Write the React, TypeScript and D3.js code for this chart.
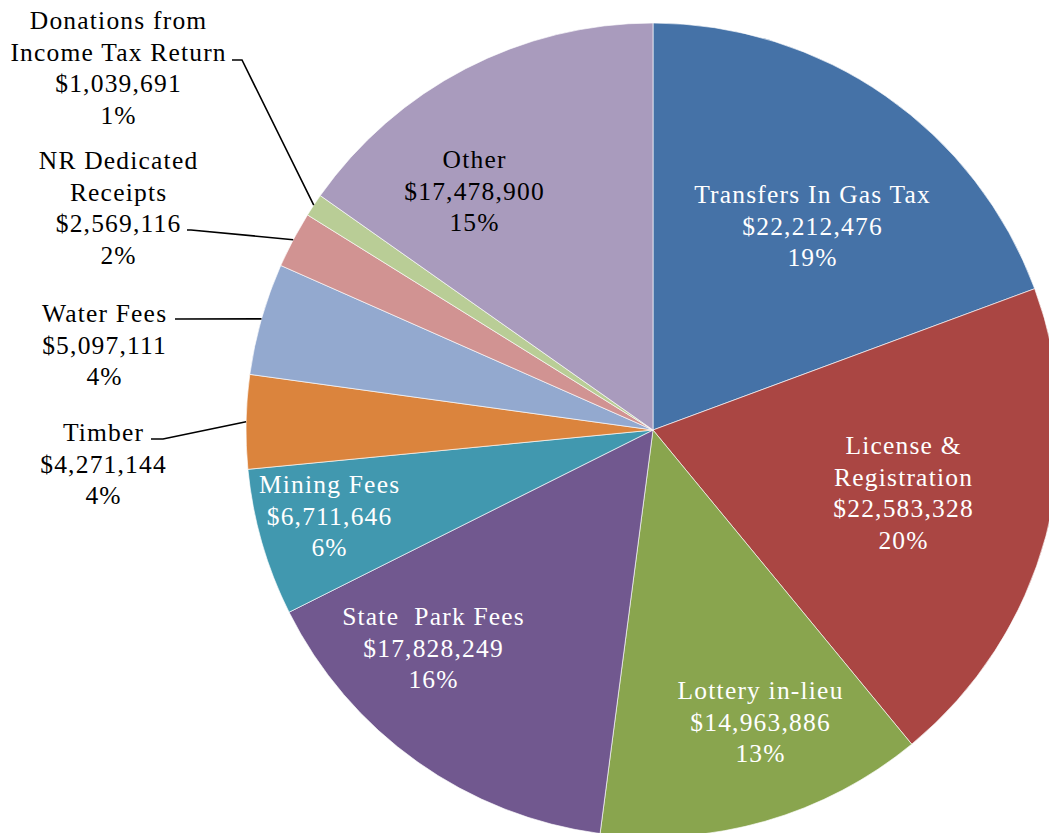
import React from "react";
import * as d3 from "d3";

const categories = [
  "Transfers In Gas Tax",
  "License & Registration",
  "Lottery in-lieu",
  "State Park Fees",
  "Mining Fees",
  "Timber",
  "Water Fees",
  "NR Dedicated Receipts",
  "Donations from Income Tax Return",
  "Other",
];
const categoryLines = [
  ["Transfers In Gas Tax"],
  ["License &", "Registration"],
  ["Lottery in-lieu"],
  ["State  Park Fees"],
  ["Mining Fees"],
  ["Timber"],
  ["Water Fees"],
  ["NR Dedicated", "Receipts"],
  ["Donations from", "Income Tax Return"],
  ["Other"],
];
const values = [
  22212476, 22583328, 14963886, 17828249, 6711646, 4271144, 5097111, 2569116,
  1039691, 17478900,
];
const colors = [
  "#4572A7", "#AA4643", "#89A54E", "#71588F", "#4198AF",
  "#DB843D", "#93A9CF", "#D19392", "#B9CD96", "#A99BBD",
];

// label layout: center x, first line center y, text colour, optional leader start
const labelLayout = [
  { x: 812, y: 194, fill: "#fff" },
  { x: 903, y: 445, fill: "#fff" },
  { x: 760, y: 690, fill: "#fff" },
  { x: 433, y: 616, fill: "#fff" },
  { x: 329, y: 484, fill: "#fff" },
  { x: 103, y: 432, fill: "#000", lx: 151, ly: 439, bend: 12 },
  { x: 104, y: 313, fill: "#000", lx: 175, ly: 319, bend: 0 },
  { x: 118, y: 160, fill: "#000", lx: 187, ly: 230, bend: 4 },
  { x: 118, y: 20, fill: "#000", lx: 232, ly: 60, bend: 10 },
  { x: 474, y: 159, fill: "#000" },
];

const W = 1049;
const H = 833;
const CX = 653;
const CY = 430;
const R = 407;
const LINE = 31.6;

export default function App() {
  const total = d3.sum(values);
  const pie = d3
    .pie<number>()
    .sort(null)
    .value((d) => d)(values);
  const arc = d3.arc<d3.PieArcDatum<number>>().innerRadius(0).outerRadius(R);
  const fmt = d3.format("$,");

  return (
    <svg
      width={W}
      height={H}
      style={{ position: "absolute", left: 0, top: 0, display: "block" }}
      fontFamily="'Liberation Serif', 'Times New Roman', serif"
    >
      <rect width={W} height={H} fill="#fff" />
      <g transform={`translate(${CX},${CY})`}>
        {pie.map((p, i) => (
          <path
            key={i}
            d={arc(p) || ""}
            fill={colors[i]}
            stroke="#fff"
            strokeWidth={0.8}
            strokeOpacity={0.8}
          />
        ))}
      </g>
      {pie.map((p, i) => {
        const L = labelLayout[i];
        if (L.lx === undefined) return null;
        const mid = (p.startAngle + p.endAngle) / 2;
        const ex = CX + R * Math.sin(mid);
        const ey = CY - R * Math.cos(mid);
        const pts = [
          [L.lx, L.ly],
          [L.lx + (L.bend || 0), L.ly],
          [ex, ey],
        ];
        return (
          <polyline
            key={"l" + i}
            points={pts.map((q) => q.join(",")).join(" ")}
            fill="none"
            stroke="#000"
            strokeWidth={1.6}
          />
        );
      })}
      {categories.map((c, i) => {
        const L = labelLayout[i];
        const lines = [
          ...categoryLines[i],
          fmt(values[i]),
          Math.round((values[i] / total) * 100) + "%",
        ];
        return (
          <text
            key={"t" + c}
            textAnchor="middle"
            fontSize={25.5}
            letterSpacing={1.2}
            fill={L.fill}
            style={{ whiteSpace: "pre" }}
          >
            {lines.map((s, j) => (
              <tspan key={j} x={L.x + 0.6} y={L.y + j * LINE} dy="0.35em">
                {s}
              </tspan>
            ))}
          </text>
        );
      })}
    </svg>
  );
}
